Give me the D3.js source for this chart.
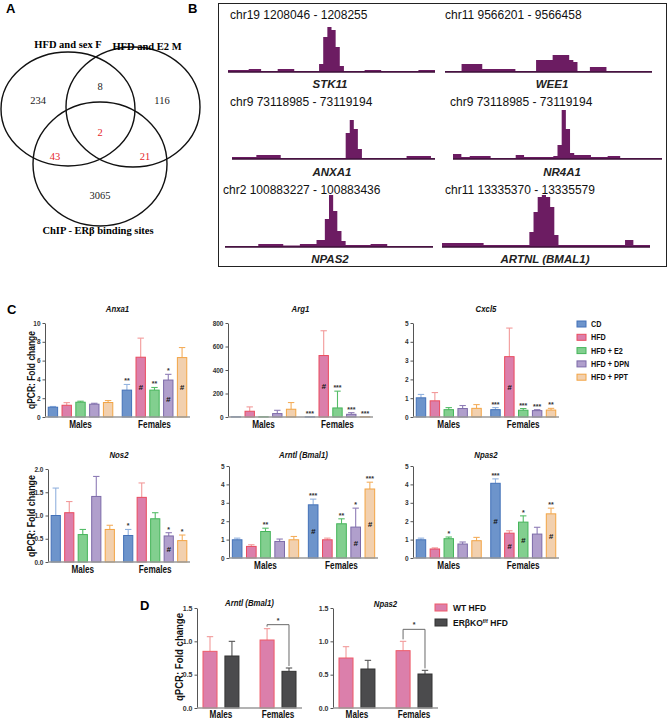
<!DOCTYPE html>
<html>
<head>
<meta charset="utf-8">
<script src="https://cdn.jsdelivr.net/npm/d3@7"></script>
<style>
  body { margin: 0; background: #fff; }
  svg { display: block; }
  text { font-family: "Liberation Sans", Arial, Helvetica, sans-serif; }
  text.serif { font-family: "Liberation Serif", "Times New Roman", serif; }
</style>
</head>
<body>
<div id="fig"></div>
<script>
// ---------- Panel A: Venn ----------
const vennSets = ["HFD and sex F", "HFD and E2 M", "ChIP - ERβ binding sites"];
const vennRegions = ["F", "M", "ChIP", "F+M", "F+ChIP", "M+ChIP", "F+M+ChIP"];
const vennCounts = [234, 116, 3065, 8, 43, 21, 2];
const vennHighlight = ["F+ChIP", "M+ChIP", "F+M+ChIP"];

// ---------- Panel B: ChIP tracks ----------
const trackCoords = [
  "chr19 1208046 - 1208255", "chr11 9566201 - 9566458",
  "chr9 73118985 - 73119194", "chr9 73118985 - 73119194",
  "chr2 100883227 - 100883436", "chr11 13335370 - 13335579",
];
const trackGenes = ["STK11", "WEE1", "ANXA1", "NR4A1", "NPAS2", "ARTNL (BMAL1)"];
const stk11Signal = [2,2,2,2,2,3,3,3,1,1,1,1,3,3,3,3,1,1,1,1,1,1,8,35,45,42,25,6,1,1,1,1,1,2,2,2,2,1,1,1,1,1,1,1,1,1,2,2,2,2];
const wee1Signal  = [1,1,1,1,8,8,8,8,8,3,3,3,3,3,3,3,3,1,1,1,1,1,12,12,12,12,17,17,17,17,12,10,1,1,1,5,5,5,5,1,1,1,1,1,1,1,1,1,1,1];
const anxa1Signal = [2,2,2,2,2,2,4,4,4,4,4,4,1,1,1,1,1,1,1,1,1,1,1,1,1,1,1,1,26,39,30,10,1,1,1,1,1,1,1,1,1,1,1,3,3,3,3,3,3,1];
const nr4a1Signal = [5,5,2,2,3,3,3,3,3,1,1,1,1,1,1,4,4,2,2,2,2,2,2,2,3,14,49,30,6,4,4,4,4,2,2,2,2,3,3,3,1,1,1,1,1,1,1,1,1,1];
const npas2Signal = [1,1,1,1,1,1,1,1,3,3,3,3,3,3,1.5,1.5,1.5,1.5,3,3,3,3,7,7,28,52,36,16,6,2,2,2,2,2,2,3,3,3,3,1,1,1,1,1,1,1,1,1,1,1];
const artnlSignal = [4,4,4,4,4,4,4,4,4,4,2,2,2,2,2,2,2,2,2,2,2,15,35,50,52,50,40,12,2,2,2,2,2,2,2,2,2,2,2,2,2,2,2,2,7,7,2,2,2,2];
const trackSignals = [stk11Signal, wee1Signal, anxa1Signal, nr4a1Signal, npas2Signal, artnlSignal];

// ---------- Panel C: qPCR ----------
const groups = ["Males", "Females"];
const treatments = ["CD", "HFD", "HFD + E2", "HFD + DPN", "HFD + PPT"];
const treatFill = ["#6d94cb", "#db7fab", "#82cf8f", "#b09fcc", "#f2d0ae"];
const treatStroke = ["#4371b8", "#ea4b5e", "#45b45a", "#7c6aa8", "#f2a444"];
const treatErr = ["#93b3df", "#f29a9a", "#55bd68", "#8e7cb6", "#f4ae5c"];

const anxa1Mean = [[1.04, 1.25, 1.57, 1.36, 1.54], [2.86, 6.36, 2.86, 3.93, 6.32]];
const anxa1Err  = [[1.12, 1.53, 1.68, 1.46, 1.75], [3.46, 8.39, 3.14, 4.54, 7.39]];
const anxa1Stars = [["", "", "", "", ""], ["**", "", "**", "*", ""]];
const anxa1Hash = [[0, 0, 0, 0, 0], [0, 1, 0, 1, 1]];

const arg1Mean = [[1, 49, 1.5, 29, 66], [1, 523, 77, 23, 2]];
const arg1Err  = [[1, 86, 1.5, 57, 123], [1, 734, 220, 37, 2]];
const arg1Stars = [["", "", "", "", ""], ["***", "", "***", "***", "***"]];
const arg1Hash = [[0, 0, 0, 0, 0], [0, 1, 0, 0, 0]];

const cxcl5Mean = [[1.02, 0.86, 0.39, 0.45, 0.46], [0.39, 3.21, 0.36, 0.34, 0.37]];
const cxcl5Err  = [[1.2, 1.3, 0.5, 0.61, 0.66], [0.5, 4.73, 0.45, 0.39, 0.46]];
const cxcl5Stars = [["", "", "", "", ""], ["***", "", "***", "***", "**"]];
const cxcl5Hash = [[0, 0, 0, 0, 0], [0, 1, 0, 0, 0]];

const nos2Mean = [[1.0, 1.06, 0.59, 1.41, 0.7], [0.57, 1.39, 0.93, 0.56, 0.46]];
const nos2Err  = [[1.59, 1.3, 0.7, 1.84, 0.79], [0.7, 1.7, 1.06, 0.63, 0.58]];
const nos2Stars = [["", "", "", "", ""], ["*", "", "", "*", "*"]];
const nos2Hash = [[0, 0, 0, 0, 0], [0, 0, 0, 1, 0]];

const arntlMean = [[0.99, 0.63, 1.44, 0.9, 0.99], [2.89, 0.99, 1.86, 1.68, 3.75]];
const arntlErr  = [[1.08, 0.72, 1.62, 1.03, 1.17], [3.2, 1.08, 2.13, 2.71, 4.12]];
const arntlStars = [["", "", "**", "", ""], ["***", "", "**", "*", "***"]];
const arntlHash = [[0, 0, 0, 0, 0], [1, 0, 0, 1, 1]];

const npas2Mean = [[0.99, 0.49, 1.05, 0.76, 0.94], [4.06, 1.35, 1.95, 1.3, 2.4]];
const npas2Err  = [[1.08, 0.55, 1.14, 0.87, 1.12], [4.3, 1.48, 2.29, 1.67, 2.71]];
const npas2Stars = [["", "", "*", "", ""], ["***", "", "*", "", "**"]];
const npas2Hash = [[0, 0, 0, 0, 0], [1, 1, 1, 0, 1]];

// ---------- Panel D: WT vs ERβKO ----------
const genotypes = ["WT HFD", "ERβKO HFD"];
const genoFill = ["#db7fab", "#4b4b4d"];
const genoStroke = ["#ef5a68", "#333333"];
const genoErr = ["#f29a9a", "#555555"];
const dArntlMean = [[0.85, 0.78], [1.02, 0.55]];
const dArntlErr  = [[1.07, 1.0], [1.19, 0.6]];
const dNpas2Mean = [[0.75, 0.585], [0.86, 0.51]];
const dNpas2Err  = [[0.92, 0.715], [1.0, 0.565]];
const dSigGroup = "Females";
const dArntlBracket = 1.25;
const dNpas2Bracket = 1.18;

// ---------- drawing ----------
const W = 669, H = 719;
const svg = d3.select("#fig").append("svg").attr("width", W).attr("height", H);

function squeeze(sel, k) {
  sel.each(function () {
    const w = this.getComputedTextLength();
    d3.select(this).attr("textLength", w * k).attr("lengthAdjust", "spacingAndGlyphs");
  });
  return sel;
}

function panelLabel(t, x, y) {
  svg.append("text").attr("x", x).attr("y", y).text(t)
    .attr("font-size", 13).attr("font-weight", "bold");
}
panelLabel("A", 6, 13);
panelLabel("B", 188, 13);
panelLabel("C", 7, 314);
panelLabel("D", 140, 610);

// Venn
const vennShapes = [
  { cx: 68, cy: 109, rx: 67, ry: 57 },
  { cx: 133, cy: 107, rx: 67, ry: 60 },
  { cx: 100, cy: 164, rx: 67, ry: 62 },
];
const vennTitlePos = [[68, 48], [147, 50], [98, 234]];
const vennCountPos = {
  "F": [38, 104], "M": [162, 104], "ChIP": [100, 199], "F+M": [100, 90],
  "F+ChIP": [55, 160], "M+ChIP": [145, 160], "F+M+ChIP": [100, 136],
};
const gA = svg.append("g");
gA.selectAll("ellipse").data(vennShapes).join("ellipse")
  .attr("cx", d => d.cx).attr("cy", d => d.cy).attr("rx", d => d.rx).attr("ry", d => d.ry)
  .attr("fill", "none").attr("stroke", "#111").attr("stroke-width", 1.4);
gA.selectAll("text.set").data(vennSets).join("text").attr("class", "set serif")
  .attr("x", (d, i) => vennTitlePos[i][0]).attr("y", (d, i) => vennTitlePos[i][1])
  .attr("text-anchor", "middle")
  .attr("font-weight", "bold").attr("font-size", 10.5).text(d => d);
gA.selectAll("text.cnt").data(vennRegions).join("text").attr("class", "cnt serif")
  .attr("x", d => vennCountPos[d][0]).attr("y", d => vennCountPos[d][1])
  .attr("text-anchor", "middle")
  .attr("font-size", 10.5)
  .attr("fill", d => vennHighlight.includes(d) ? "#e5262b" : "#222")
  .text((d, i) => vennCounts[i]);

// Tracks
svg.append("rect").attr("x", 218.5).attr("y", 3.5).attr("width", 448).attr("height", 263)
  .attr("fill", "none").attr("stroke", "#222").attr("stroke-width", 1);
const trackLayout = [
  { x0: 228, x1: 435, base: 72, lx: 230, ly: 19, gx: 330, gy: 88 },
  { x0: 445, x1: 652, base: 72, lx: 445, ly: 19, gx: 552, gy: 88 },
  { x0: 232, x1: 435, base: 159, lx: 230, ly: 106, gx: 332, gy: 176 },
  { x0: 453, x1: 662, base: 159, lx: 450, ly: 106, gx: 562, gy: 176 },
  { x0: 225, x1: 433, base: 247, lx: 223, ly: 194, gx: 330, gy: 263 },
  { x0: 442, x1: 650, base: 247, lx: 445, ly: 194, gx: 545, gy: 263 },
];
const trackColor = "#6c1c62";
trackSignals.forEach((sig, i) => {
  const L = trackLayout[i];
  const x = d3.scaleLinear().domain([0, sig.length]).range([L.x0, L.x1]);
  const y = d3.scaleLinear().domain([0, 55]).range([L.base, L.base - 55]);
  const pts = sig.map((v, j) => [j, v]).concat([[sig.length, sig[sig.length - 1]]]);
  const area = d3.area().x(d => x(d[0])).y0(y(0)).y1(d => y(d[1])).curve(d3.curveStepAfter);
  svg.append("path").datum(pts).attr("d", area).attr("fill", trackColor);
  svg.append("line").attr("x1", x(0)).attr("x2", x(sig.length)).attr("y1", y(0)).attr("y2", y(0))
    .attr("stroke", "#3d0f38").attr("stroke-width", 1.5);
  svg.append("text").attr("x", L.lx).attr("y", L.ly).attr("font-size", 12).attr("fill", "#111")
    .text(trackCoords[i]);
  svg.append("text").attr("x", L.gx).attr("y", L.gy).attr("font-size", 11.5).attr("text-anchor", "middle")
    .attr("font-weight", "bold").attr("font-style", "italic").attr("fill", "#222").text(trackGenes[i]);
});

// Bar charts
function barChart(opt) {
  const L = opt.L;
  const g = svg.append("g");
  const y = d3.scaleLinear().domain([0, L.max]).range([L.yBot, L.yTop]);
  const xg = d3.scaleBand().domain(groups).range([L.x0, L.x1])
    .paddingInner(opt.gPadIn).paddingOuter(opt.gPadOut);
  const xs = d3.scaleBand().domain(opt.series).range([0, xg.bandwidth()])
    .paddingInner(opt.sPadIn).paddingOuter(opt.sPadOut);

  const ax = g.append("g").attr("transform", `translate(${L.x0},0)`)
    .call(d3.axisLeft(y).tickValues(L.ticks).tickFormat(d3.format(L.fmt)).tickSize(2.5).tickSizeOuter(0));
  ax.select(".domain").attr("stroke", "#555");
  ax.selectAll(".tick line").attr("stroke", "#555");
  ax.selectAll(".tick text").attr("font-size", opt.tickSize || 6.5).attr("fill", "#333")
    .attr("font-weight", "bold").attr("dx", 1);

  const rows = [];
  groups.forEach((grp, gi) => opt.series.forEach((s, si) => rows.push({
    grp, s, si, v: opt.mean[gi][si], e: opt.err[gi][si],
    star: opt.stars ? opt.stars[gi][si] : "", hash: opt.hash ? opt.hash[gi][si] : 0,
  })));
  const cx = d => xg(d.grp) + xs(d.s) + xs.bandwidth() / 2;
  const cap = Math.min(3.2, xs.bandwidth() * 0.35);

  g.selectAll("line.err").data(rows.filter(d => d.e > d.v)).join("line").attr("class", "err")
    .attr("x1", cx).attr("x2", cx).attr("y1", d => y(d.v)).attr("y2", d => y(d.e))
    .attr("stroke", d => opt.errC[d.si]).attr("stroke-width", 1.1);
  g.selectAll("line.cap").data(rows.filter(d => d.e > d.v)).join("line").attr("class", "cap")
    .attr("x1", d => cx(d) - cap).attr("x2", d => cx(d) + cap).attr("y1", d => y(d.e)).attr("y2", d => y(d.e))
    .attr("stroke", d => opt.errC[d.si]).attr("stroke-width", 1.1);
  g.selectAll("rect.bar").data(rows).join("rect").attr("class", "bar")
    .attr("x", d => xg(d.grp) + xs(d.s)).attr("width", xs.bandwidth())
    .attr("y", d => y(d.v)).attr("height", d => L.yBot - y(d.v))
    .attr("fill", d => opt.fill[d.si]).attr("stroke", d => opt.stroke[d.si]).attr("stroke-width", 1);

  g.append("line").attr("x1", L.x0).attr("x2", L.x1).attr("y1", L.yBot).attr("y2", L.yBot)
    .attr("stroke", "#9a9a9a").attr("stroke-width", 1.6);

  g.selectAll("text.star").data(rows.filter(d => d.star)).join("text").attr("class", "star")
    .attr("x", cx).attr("y", d => Math.min(y(d.e), y(d.v)) - 1).attr("text-anchor", "middle")
    .attr("font-size", 7).attr("font-weight", "bold").attr("fill", "#333").text(d => d.star);
  g.selectAll("text.hash").data(rows.filter(d => d.hash)).join("text").attr("class", "hash")
    .attr("x", cx).attr("y", d => (y(d.v) + L.yBot) / 2 + 3).attr("text-anchor", "middle")
    .attr("font-size", 8).attr("font-weight", "bold").attr("font-style", "italic").attr("fill", "#111").text("#");

  squeeze(g.selectAll("text.grp").data(groups).join("text").attr("class", "grp")
    .attr("x", d => xg(d) + xg.bandwidth() / 2).attr("y", L.yBot + (opt.grpDy || 11))
    .attr("text-anchor", "middle").attr("font-size", 10.5).attr("font-weight", "bold").attr("fill", "#111")
    .text(d => d), 0.78);

  squeeze(g.append("text").attr("x", (L.x0 + L.x1) / 2).attr("y", L.titleY).attr("text-anchor", "middle")
    .attr("font-size", 9.5).attr("font-weight", "bold").attr("font-style", "italic").attr("fill", "#111")
    .text(opt.title), 0.82);

  if (opt.sig) {
    const i0 = rows.findIndex(d => d.grp === opt.sig.group && d.si === 0);
    const a = rows[i0], b = rows[i0 + 1];
    const yt = y(opt.sig.at);
    g.append("path")
      .attr("d", `M${cx(a)},${y(a.e) - 2}V${yt}H${cx(b)}V${y(b.e) - 2}`)
      .attr("fill", "none").attr("stroke", "#6a6a6a").attr("stroke-width", 1);
    g.append("text").attr("x", (cx(a) + cx(b)) / 2).attr("y", yt - 2).attr("text-anchor", "middle")
      .attr("font-size", 7).attr("font-weight", "bold").attr("fill", "#333").text(opt.sig.label);
  }
}

function yLabel(x, y, len) {
  const t = svg.append("text").attr("transform", `translate(${x},${y}) rotate(-90)`)
    .attr("text-anchor", "middle").attr("font-size", 10.5).attr("font-weight", "bold").attr("fill", "#111")
    .text("qPCR: Fold change");
  t.attr("textLength", len).attr("lengthAdjust", "spacingAndGlyphs");
}

const cOpt = {
  series: treatments, fill: treatFill, stroke: treatStroke, errC: treatErr,
  gPadIn: 0.12, gPadOut: 0.04, sPadIn: 0.32, sPadOut: 0.02,
};
const cCharts = [
  { title: "Anxa1", mean: anxa1Mean, err: anxa1Err, stars: anxa1Stars, hash: anxa1Hash,
    L: { x0: 45, x1: 190, yTop: 323, yBot: 417, max: 10, ticks: [0, 2, 4, 6, 8, 10], fmt: "d", titleY: 312 } },
  { title: "Arg1", mean: arg1Mean, err: arg1Err, stars: arg1Stars, hash: arg1Hash,
    L: { x0: 228, x1: 373, yTop: 323, yBot: 417, max: 800, ticks: [0, 200, 400, 600, 800], fmt: "d", titleY: 312 } },
  { title: "Cxcl5", mean: cxcl5Mean, err: cxcl5Err, stars: cxcl5Stars, hash: cxcl5Hash,
    L: { x0: 413, x1: 559, yTop: 323, yBot: 417, max: 5, ticks: [0, 1, 2, 3, 4, 5], fmt: "d", titleY: 312 } },
  { title: "Nos2", mean: nos2Mean, err: nos2Err, stars: nos2Stars, hash: nos2Hash,
    L: { x0: 48, x1: 190, yTop: 469, yBot: 562, max: 2, ticks: [0, 0.5, 1, 1.5, 2], fmt: ".1f", titleY: 458 } },
  { title: "Arntl (Bmal1)", mean: arntlMean, err: arntlErr, stars: arntlStars, hash: arntlHash,
    L: { x0: 229, x1: 378, yTop: 466, yBot: 558, max: 5, ticks: [0, 1, 2, 3, 4, 5], fmt: "d", titleY: 458 } },
  { title: "Npas2", mean: npas2Mean, err: npas2Err, stars: npas2Stars, hash: npas2Hash,
    L: { x0: 413, x1: 559, yTop: 466, yBot: 558, max: 5, ticks: [0, 1, 2, 3, 4, 5], fmt: "d", titleY: 458 } },
];
cCharts.forEach(c => barChart(Object.assign({}, cOpt, c)));
yLabel(35, 370, 78);
yLabel(35, 516, 82);

// legend C
const legC = svg.append("g").attr("transform", "translate(577,321)");
treatments.forEach((t, i) => {
  legC.append("rect").attr("x", 0).attr("y", i * 13.3).attr("width", 9).attr("height", 6)
    .attr("fill", treatFill[i]).attr("stroke", treatStroke[i]).attr("stroke-width", 1);
  squeeze(legC.append("text").attr("x", 14).attr("y", i * 13.3 + 6).attr("font-size", 9)
    .attr("font-weight", "bold").attr("fill", "#111").text(t), 0.8);
});

// Panel D
const dOpt = {
  series: genotypes, fill: genoFill, stroke: genoStroke, errC: genoErr,
  gPadIn: 0.37, gPadOut: 0.105, sPadIn: 0.36, sPadOut: 0, grpDy: 10, tickSize: 7,
};
barChart(Object.assign({}, dOpt, {
  title: "Arntl (Bmal1)", mean: dArntlMean, err: dArntlErr,
  sig: { group: dSigGroup, at: dArntlBracket, label: "*" },
  L: { x0: 197, x1: 302, yTop: 608, yBot: 708, max: 1.5, ticks: [0, 0.5, 1, 1.5], fmt: ".1f", titleY: 606 },
}));
barChart(Object.assign({}, dOpt, {
  title: "Npas2", mean: dNpas2Mean, err: dNpas2Err,
  sig: { group: dSigGroup, at: dNpas2Bracket, label: "*" },
  L: { x0: 333, x1: 438, yTop: 608, yBot: 708, max: 1.5, ticks: [0, 0.5, 1, 1.5], fmt: ".1f", titleY: 607 },
}));
yLabel(183, 657, 88);

const legD = svg.append("g").attr("transform", "translate(435,604)");
genotypes.forEach((t, i) => {
  legD.append("rect").attr("x", 0).attr("y", i * 15).attr("width", 12).attr("height", 7)
    .attr("fill", genoFill[i]).attr("stroke", genoStroke[i]).attr("stroke-width", 1);
  const tx = legD.append("text").attr("x", 18).attr("y", i * 15 + 7).attr("font-size", 8.5)
    .attr("font-weight", "bold").attr("fill", "#111");
  if (i === 0) {
    tx.text(t);
  } else {
    tx.append("tspan").text("ERβKO");
    tx.append("tspan").attr("font-size", 5.5).attr("dy", -3).text("f/f");
    tx.append("tspan").attr("dy", 3).text(" HFD");
  }
});
</script>
</body>
</html>
